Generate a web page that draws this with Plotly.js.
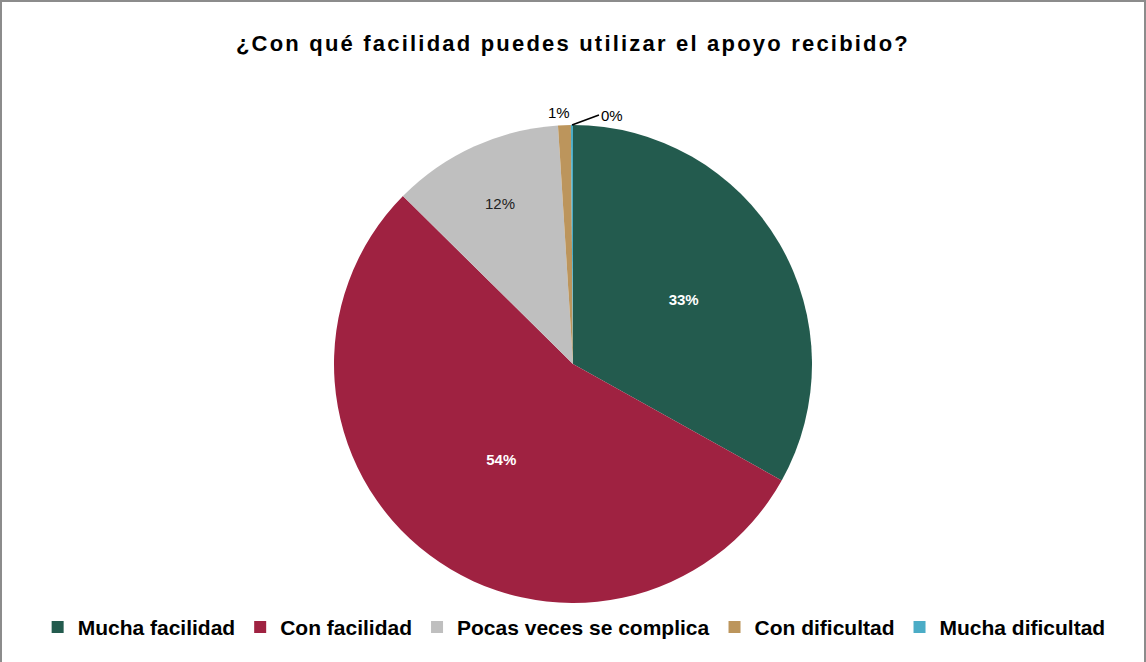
<!DOCTYPE html>
<html>
<head>
<meta charset="utf-8">
<script src="https://cdn.plot.ly/plotly-3.0.1.min.js"></script>
<style>
html,body{margin:0;padding:0;background:#fff;}
#wrap{position:relative;width:1146px;height:662px;}
#chart{position:absolute;left:0;top:0;width:1146px;height:662px;}
#frame{position:absolute;left:0;top:0;width:1146px;height:662px;box-sizing:border-box;border:2px solid #8c8c8c;border-bottom:none;pointer-events:none;}
#chart .gtitle{letter-spacing:2.2px;}
</style>
</head>
<body>
<div id="wrap"><div id="chart"></div><div id="frame"></div></div>
<script>
const categories = ["Mucha facilidad", "Con facilidad", "Pocas veces se complica", "Con dificultad", "Mucha dificultad"];
const shares = [33.1, 54.3, 11.6, 0.86, 0.14];
const sliceColors = ["#235B4E", "#9F2241", "#BFBFBF", "#BC955C", "#4BACC6"];
const labelColors = ["#ffffff", "#ffffff", "#222222", "#000000", "#000000"];
const labelWeights = ["bold", "bold", "normal", "normal", "normal"];
const labelPositions = ["inside", "inside", "inside", "none", "none"];

const total = shares.reduce((a, b) => a + b, 0);
const pctText = shares.map(v => Math.round(v / total * 100) + "%");

const trace = {
  type: "pie",
  labels: categories,
  values: shares,
  sort: false,
  direction: "clockwise",
  rotation: 0,
  marker: {colors: sliceColors, line: {width: 0}},
  texttemplate: "%{percent:.0%}",
  textposition: labelPositions,
  insidetextorientation: "horizontal",
  textfont: {family: "Arial, Liberation Sans, sans-serif", size: 15, color: labelColors, weight: labelWeights},
  hoverinfo: "label+percent",
  domain: {x: [0, 1], y: [0, 1]}
};

const lblFont = {family: "Arial, Liberation Sans, sans-serif", size: 15, color: "#000"};
const layout = {
  width: 1146, height: 662,
  margin: {l: 0, r: 0, t: 125, b: 59},
  paper_bgcolor: "rgba(0,0,0,0)",
  title: {
    text: "<b>¿Con qué facilidad puedes utilizar el apoyo recibido?</b>",
    font: {family: "Arial, Liberation Sans, sans-serif", size: 22, color: "#000"},
    x: 0.5, xanchor: "center", y: 0.934, yanchor: "middle"
  },
  annotations: [
    {xref: "paper", yref: "paper", x: 0.4882, y: 1.027, text: pctText[3], showarrow: false,
     font: lblFont, xanchor: "center", yanchor: "middle"},
    {xref: "paper", yref: "paper", x: 0.4991, y: 1.0, text: pctText[4], showarrow: true,
     arrowhead: 0, arrowwidth: 1.6, arrowcolor: "#000", ax: 27, ay: -10, standoff: 0,
     font: lblFont, xanchor: "left", yanchor: "middle"}
  ],
  showlegend: true,
  legend: {
    orientation: "h", x: 0.501, xanchor: "center", y: -0.051, yanchor: "middle",
    font: {family: "Arial, Liberation Sans, sans-serif", size: 21, color: "#000", weight: "bold"},
    itemwidth: 30, traceorder: "normal"
  }
};

Plotly.newPlot("chart", [trace], layout, {displayModeBar: false, staticPlot: true});
</script>
</body>
</html>
